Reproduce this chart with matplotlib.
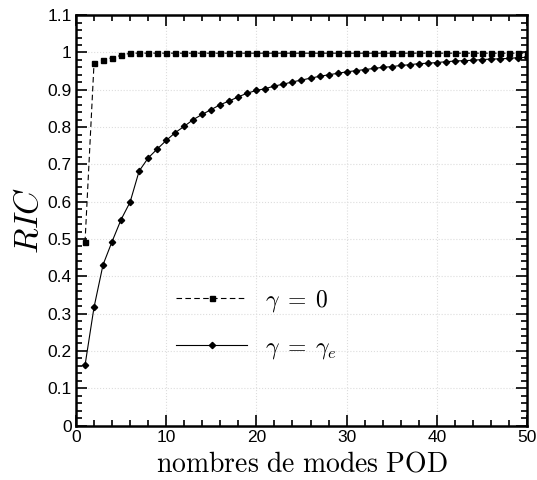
import matplotlib
matplotlib.use("Agg")
import matplotlib.pyplot as plt
from matplotlib.ticker import MultipleLocator, FuncFormatter

plt.rcParams['mathtext.fontset'] = 'cm'
plt.rcParams['font.family'] = ['Liberation Sans', 'DejaVu Sans']

modes = list(range(1, 51))
ric_gamma0 = [0.491, 0.971, 0.979, 0.986, 0.992] + [0.998] * 45
ric_gammae = [0.161, 0.317, 0.431, 0.493, 0.552, 0.599, 0.682, 0.717, 0.741, 0.764,
              0.785, 0.802, 0.820, 0.834, 0.847, 0.860, 0.870, 0.881, 0.891, 0.898,
              0.903, 0.910, 0.915, 0.921, 0.926, 0.931, 0.936, 0.940, 0.944, 0.948,
              0.951, 0.954, 0.957, 0.960, 0.962, 0.965, 0.967, 0.970, 0.971, 0.973,
              0.975, 0.977, 0.978, 0.979, 0.981, 0.982, 0.983, 0.984, 0.986, 0.987]
labels = [r'$\gamma\;=\;0$', r'$\gamma\;=\;\gamma_e$']

fig = plt.figure(figsize=(5.37, 4.8), dpi=100)
ax = fig.add_axes([0.1415, 0.1135, 0.8399, 0.855])

ax.plot(modes, ric_gamma0, color='black', lw=0.8, ls=(0, (5, 3)), marker='s', ms=3.6,
        label=labels[0])
ax.plot(modes, ric_gammae, color='black', lw=0.8, ls='-', marker='D', ms=3.2,
        label=labels[1])

ax.set_xlim(0, 50)
ax.set_ylim(0, 1.1)
ax.xaxis.set_major_locator(MultipleLocator(10))
ax.xaxis.set_minor_locator(MultipleLocator(2))
ax.yaxis.set_major_locator(MultipleLocator(0.1))
ax.yaxis.set_minor_locator(MultipleLocator(0.02))
ax.yaxis.set_major_formatter(FuncFormatter(lambda v, p: '%g' % round(v, 2)))
ax.tick_params(which='both', direction='in', top=True, right=True, width=1.2,
               labelsize=12.5, pad=3)
ax.tick_params(which='major', length=8)
ax.tick_params(which='minor', length=4)
for s in ax.spines.values():
    s.set_linewidth(1.8)
ax.grid(which='major', color='#dddddd', ls=':', lw=0.8)

ax.set_xlabel(r'$\mathrm{nombres\ de\ modes\ POD}$', fontsize=20, labelpad=5)
ax.set_ylabel(r'$RIC$', fontsize=24, labelpad=2)

ax.legend(loc='upper left', bbox_to_anchor=(0.222, 0.335), frameon=False,
          fontsize=17, handlelength=3.0, handletextpad=0.75, labelspacing=0.95,
          borderpad=0, borderaxespad=0)

fig.savefig('out.png', dpi=100)
